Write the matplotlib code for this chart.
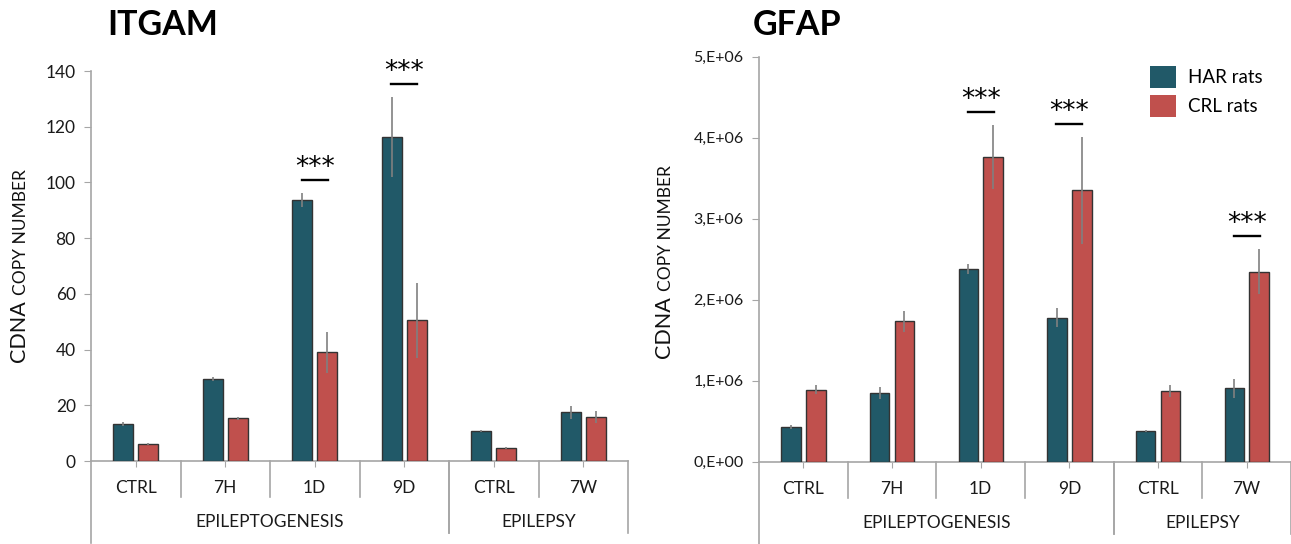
import numpy as np
import matplotlib.pyplot as plt
from matplotlib.patches import Patch

############################## DATA ##############################

categories = ['CTRL', '7H', '1D', '9D', 'CTRL', '7W']
groups = ['EPILEPTOGENESIS', 'EPILEPSY']
group_spans = [(-0.5, 3.5), (3.5, 5.5)]
series_names = ['HAR rats', 'CRL rats']

itgam_har = [13.3, 29.4, 93.7, 116.3, 10.7, 17.5]
itgam_har_err = [0.6, 0.6, 2.4, 14.3, 0.4, 2.4]
itgam_crl = [6.0, 15.3, 39.0, 50.5, 4.7, 15.8]
itgam_crl_err = [0.3, 0.6, 7.3, 13.5, 0.3, 2.0]
itgam_sig = [(2, 100.9), (3, 135.3)]          # (category index, bar height)
itgam_ticks = [0, 20, 40, 60, 80, 100, 120, 140]

gfap_har = [0.425e6, 0.844e6, 2.375e6, 1.778e6, 0.379e6, 0.906e6]
gfap_har_err = [0.025e6, 0.075e6, 0.06e6, 0.115e6, 0.01e6, 0.12e6]
gfap_crl = [0.889e6, 1.733e6, 3.762e6, 3.35e6, 0.873e6, 2.346e6]
gfap_crl_err = [0.055e6, 0.13e6, 0.39e6, 0.66e6, 0.07e6, 0.28e6]
gfap_sig = [(2, 4.32e6), (3, 4.17e6), (5, 2.79e6)]
gfap_ticks = [0, 1e6, 2e6, 3e6, 4e6, 5e6]
gfap_ticklabels = ['0,E+00', '1,E+06', '2,E+06', '3,E+06', '4,E+06', '5,E+06']

############################## STYLE ##############################

plt.rcParams['font.family'] = ['Lato', 'DejaVu Sans']
HAR_COL = '#215968'
CRL_COL = '#C0504D'
AX_COL = '#A6A6A6'
W, H = 1291, 544

fig = plt.figure(figsize=(W / 100, H / 100), dpi=100)
ax1 = fig.add_axes([91 / W, (H - 461) / H, 537 / W, 390 / H])
ax2 = fig.add_axes([759 / W, (H - 461.7) / H, 532 / W, 405 / H])


def draw_panel(ax, har, har_err, crl, crl_err, sig, ticks, ticklabels, ymax, tickfs):
    x = np.arange(len(categories))
    ax.bar(x - 0.14, har, 0.22, color=HAR_COL, edgecolor='#333333', linewidth=1,
           yerr=har_err, error_kw=dict(ecolor='#808080', elinewidth=1.2, capsize=0), zorder=3)
    ax.bar(x + 0.14, crl, 0.22, color=CRL_COL, edgecolor='#333333', linewidth=1,
           yerr=crl_err, error_kw=dict(ecolor='#808080', elinewidth=1.2, capsize=0), zorder=3)
    ax.set_xlim(-0.5, len(categories) - 0.5)
    ax.set_ylim(0, ymax)
    ax.set_yticks(ticks)
    ax.set_yticklabels(ticklabels, fontsize=tickfs, color='#1a1a1a')
    ax.set_xticks(x)
    ax.set_xticklabels(categories, fontsize=12.5, color='#1a1a1a')
    ax.tick_params(axis='y', length=5, color=AX_COL, pad=6)
    ax.tick_params(axis='x', length=4, color=AX_COL, pad=10)
    for s in ['top', 'right']:
        ax.spines[s].set_visible(False)
    for s in ['left', 'bottom']:
        ax.spines[s].set_color(AX_COL)
        ax.spines[s].set_linewidth(1.2)

    # multi-level category axis separators
    h_px = ax.get_position().height * H
    tr = ax.get_xaxis_transform()
    for b in np.arange(0.5, len(categories) - 0.5):
        if any(abs(b - s[0]) < 1e-6 for s in group_spans):
            continue
        ax.plot([b, b], [0, -36 / h_px], color=AX_COL, lw=1.2, transform=tr, clip_on=False)
    for s in group_spans:
        for b in s:
            low = -82 / h_px if b == -0.5 else -72 / h_px
            ax.plot([b, b], [0, low], color=AX_COL, lw=1.2, transform=tr, clip_on=False)
    for name, s in zip(groups, group_spans):
        ax.annotate(name, xy=((s[0] + s[1]) / 2, 0), xycoords=tr,
                    xytext=(0, -61), textcoords='offset pixels',
                    ha='center', va='center', fontsize=12.5, color='#1a1a1a')

    # significance marks
    for i, yv in sig:
        ax.plot([i - 0.145, i + 0.145], [yv, yv], color='black', lw=1.7, zorder=4)
        ax.annotate('***', xy=(i, yv), xytext=(0, 5), textcoords='offset pixels',
                    ha='center', va='baseline', fontsize=19, color='black',
                    family='DejaVu Sans')


draw_panel(ax1, itgam_har, itgam_har_err, itgam_crl, itgam_crl_err, itgam_sig,
           itgam_ticks, [str(t) for t in itgam_ticks], 140, 12.5)
draw_panel(ax2, gfap_har, gfap_har_err, gfap_crl, gfap_crl_err, gfap_sig,
           gfap_ticks, gfap_ticklabels, 5e6, 11.5)

# titles
fig.text(107 / W, (H - 35) / H, 'ITGAM', fontsize=24.5, fontweight='bold', va='baseline')
fig.text(753 / W, (H - 35) / H, 'GFAP', fontsize=24.5, fontweight='bold', va='baseline')

# y labels made of two sizes
fig.canvas.draw()
rend = fig.canvas.get_renderer()
for xr, ybot in [(29, 362), (674, 358)]:
    t1 = fig.text(xr / W, (H - ybot) / H, 'CDNA', rotation=90, fontsize=15.5,
                  ha='right', va='bottom', color='#111111')
    bb = t1.get_window_extent(rend)
    fig.text(xr / W, (bb.y1 + 5) / H, 'COPY NUMBER', rotation=90, fontsize=12.5,
             ha='right', va='bottom', color='#111111')

# legend
handles = [Patch(facecolor=HAR_COL, label=series_names[0]),
           Patch(facecolor=CRL_COL, label=series_names[1])]
ax2.legend(handles=handles, loc='upper left', bbox_to_anchor=(1150 / W, (H - 66) / H),
           bbox_transform=fig.transFigure, frameon=False, fontsize=13.5,
           handlelength=1.4, handleheight=1.4, handletextpad=0.65,
           labelspacing=0.4, borderpad=0, borderaxespad=0)

fig.savefig('out.png', dpi=100)
